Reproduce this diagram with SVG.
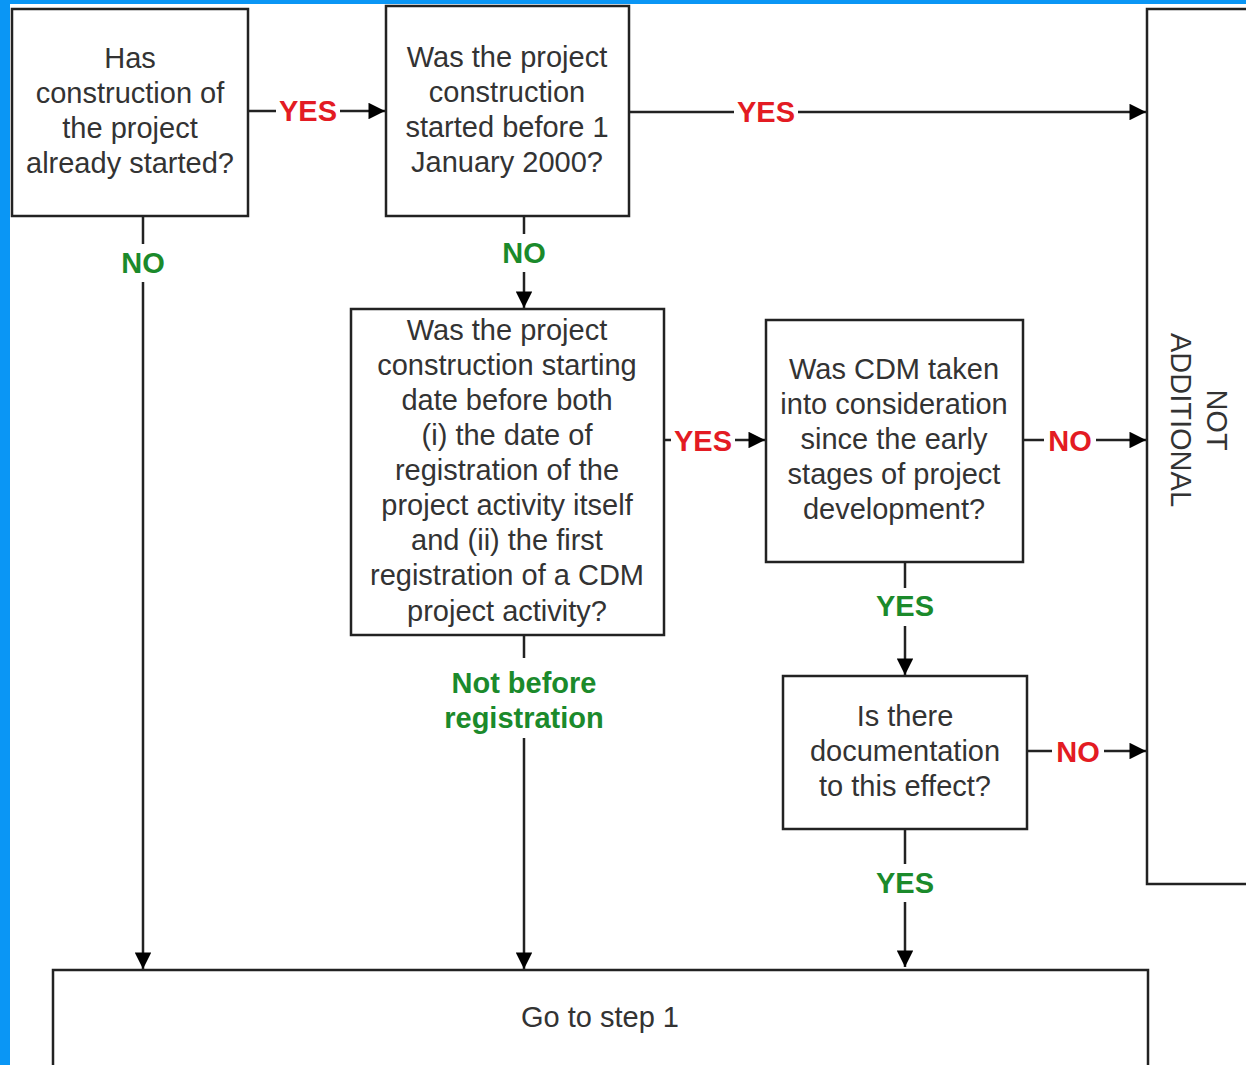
<svg xmlns="http://www.w3.org/2000/svg" width="1246" height="1065" viewBox="0 0 1246 1065">
<defs>
<style>
.box{fill:#fff;stroke:#222;stroke-width:2.5}
.t{font-family:"Liberation Sans",Arial,sans-serif;font-size:29px;fill:#333;text-anchor:middle}
.lbl{font-family:"Liberation Sans",Arial,sans-serif;font-size:29px;font-weight:bold;text-anchor:middle}
.red{fill:#e31b23}
.green{fill:#1b8a2b}
.ln{stroke:#222;stroke-width:2.5;fill:none}
.bg{fill:#fff}
</style>
<marker id="ah" viewBox="0 0 10 10" refX="10" refY="5" markerWidth="9.2" markerHeight="6.6" markerUnits="strokeWidth" orient="auto">
<path d="M0,0 L10,5 L0,10 z" fill="#000"/>
</marker>
</defs>
<rect x="0" y="0" width="1246" height="1065" fill="#fff"/>
<rect x="0" y="0" width="1246" height="4" fill="#0a96f5"/>
<rect x="0" y="0" width="10" height="1065" fill="#0a96f5"/>

<g id="connectors">
<path class="ln" d="M248,111 H385" marker-end="url(#ah)"/>
<rect class="bg" x="276" y="94" width="64" height="32"/>
<text class="lbl red" x="308" y="121">YES</text>

<path class="ln" d="M629,112 H1146" marker-end="url(#ah)"/>
<rect class="bg" x="734" y="95" width="64" height="32"/>
<text class="lbl red" x="766" y="122">YES</text>

<path class="ln" d="M143,216 V969" marker-end="url(#ah)"/>
<rect class="bg" x="116" y="244" width="54" height="38"/>
<text class="lbl green" x="143" y="273">NO</text>

<path class="ln" d="M524,216 V308" marker-end="url(#ah)"/>
<rect class="bg" x="497" y="234" width="54" height="38"/>
<text class="lbl green" x="524" y="263">NO</text>

<path class="ln" d="M664,440 H765" marker-end="url(#ah)"/>
<rect class="bg" x="671" y="424" width="64" height="32"/>
<text class="lbl red" x="703" y="451">YES</text>

<path class="ln" d="M1023,440 H1146" marker-end="url(#ah)"/>
<rect class="bg" x="1044" y="424" width="52" height="32"/>
<text class="lbl red" x="1070" y="451">NO</text>

<path class="ln" d="M905,562 V675" marker-end="url(#ah)"/>
<rect class="bg" x="871" y="588" width="68" height="38"/>
<text class="lbl green" x="905" y="616">YES</text>

<path class="ln" d="M1027,751 H1146" marker-end="url(#ah)"/>
<rect class="bg" x="1052" y="735" width="52" height="32"/>
<text class="lbl red" x="1078" y="762">NO</text>

<path class="ln" d="M905,829 V967" marker-end="url(#ah)"/>
<rect class="bg" x="871" y="864" width="68" height="38"/>
<text class="lbl green" x="905" y="893">YES</text>

<path class="ln" d="M524,635 V969" marker-end="url(#ah)"/>
<rect class="bg" x="436" y="658" width="176" height="80"/>
<text class="lbl green" x="524" y="693">Not before</text>
<text class="lbl green" x="524" y="728">registration</text>
</g>

<g id="n1">
<rect class="box" x="12" y="9" width="236" height="207"/>
<text class="t" x="130" y="68">Has</text>
<text class="t" x="130" y="103">construction of</text>
<text class="t" x="130" y="138">the project</text>
<text class="t" x="130" y="173">already started?</text>
</g>

<g id="n2">
<rect class="box" x="386" y="6" width="243" height="210"/>
<text class="t" x="507" y="67">Was the project</text>
<text class="t" x="507" y="102">construction</text>
<text class="t" x="507" y="137">started before 1</text>
<text class="t" x="507" y="172">January 2000?</text>
</g>

<g id="n3">
<rect class="box" x="351" y="309" width="313" height="326"/>
<text class="t" x="507" y="340">Was the project</text>
<text class="t" x="507" y="375">construction starting</text>
<text class="t" x="507" y="410">date before both</text>
<text class="t" x="507" y="445">(i) the date of</text>
<text class="t" x="507" y="480">registration of the</text>
<text class="t" x="507" y="515">project activity itself</text>
<text class="t" x="507" y="550">and (ii) the first</text>
<text class="t" x="507" y="585">registration of a CDM</text>
<text class="t" x="507" y="621">project activity?</text>
</g>

<g id="n4">
<rect class="box" x="766" y="320" width="257" height="242"/>
<text class="t" x="894" y="379">Was CDM taken</text>
<text class="t" x="894" y="414">into consideration</text>
<text class="t" x="894" y="449">since the early</text>
<text class="t" x="894" y="484">stages of project</text>
<text class="t" x="894" y="519">development?</text>
</g>

<g id="n5">
<rect class="box" x="783" y="676" width="244" height="153"/>
<text class="t" x="905" y="726">Is there</text>
<text class="t" x="905" y="761">documentation</text>
<text class="t" x="905" y="796">to this effect?</text>
</g>

<g id="notadditional">
<rect class="box" x="1147" y="9" width="130" height="875"/>
<g transform="translate(1199,420) rotate(90)">
<text class="t" x="0" y="-8">NOT</text>
<text class="t" x="0" y="28">ADDITIONAL</text>
</g>
</g>

<g id="step1">
<rect class="box" x="53" y="970" width="1095" height="130"/>
<text class="t" x="600" y="1027">Go to step 1</text>
</g>
</svg>
